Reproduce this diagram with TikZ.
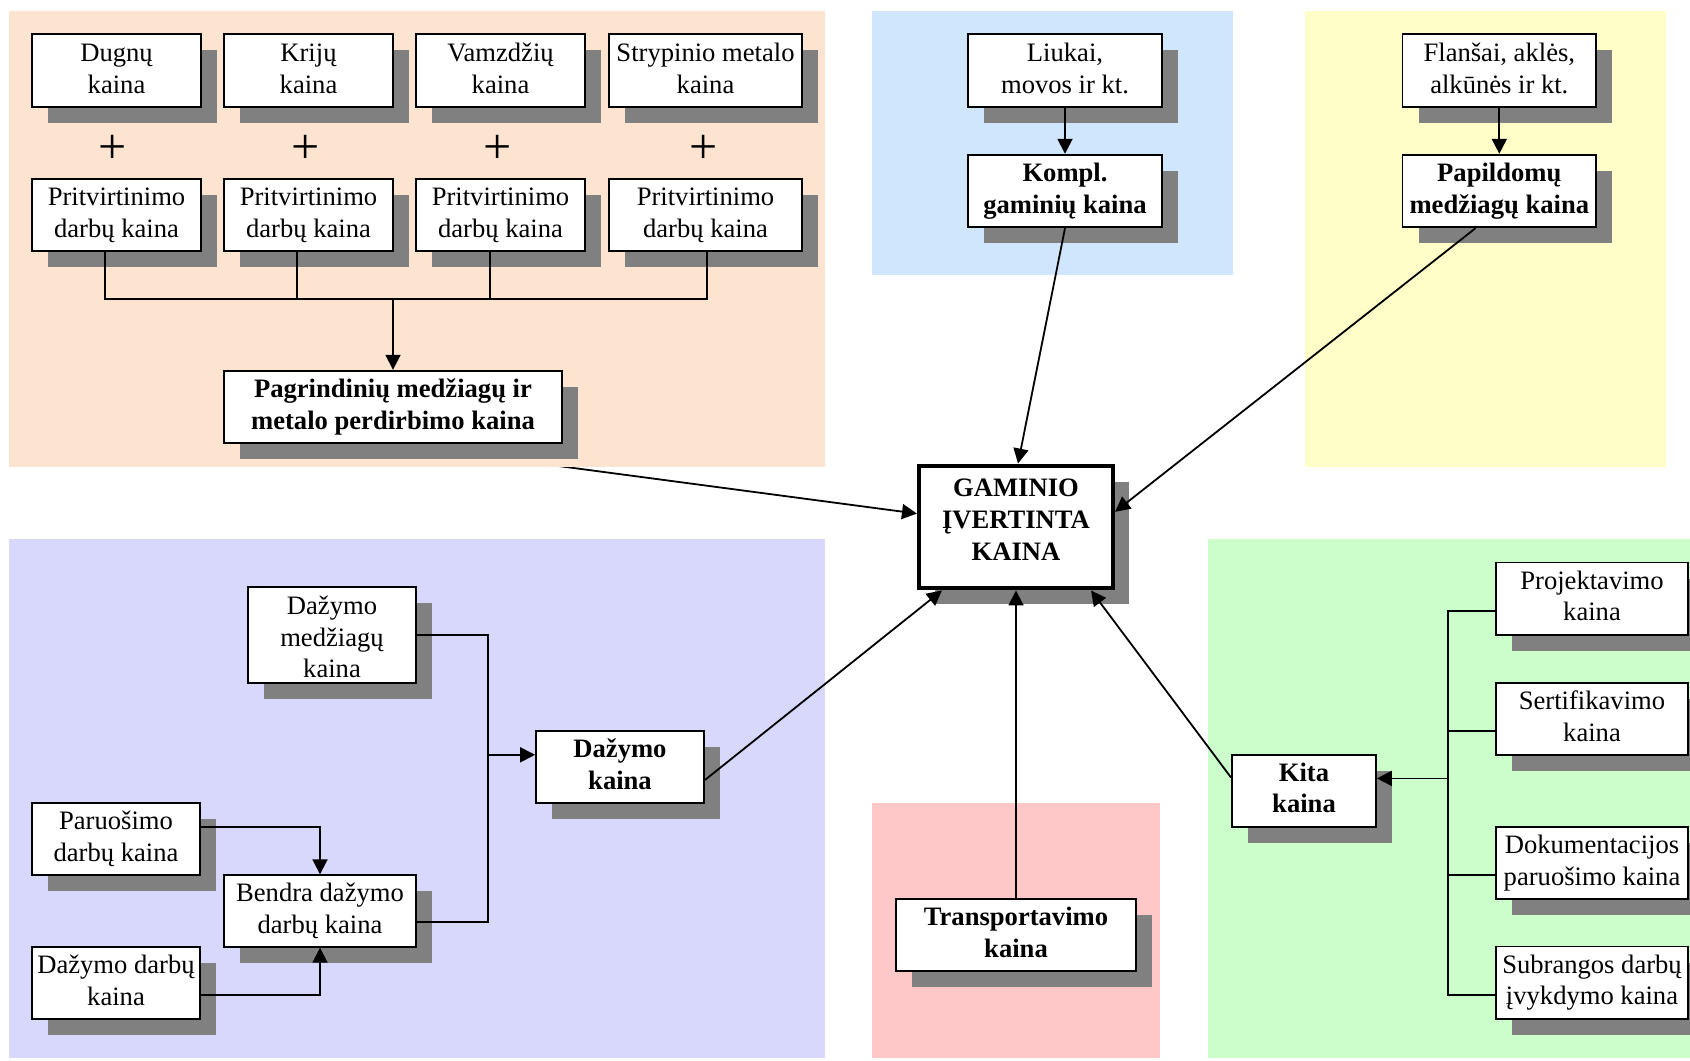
\documentclass[tikz,border=0pt]{standalone}
\usepackage{fontspec}
\setmainfont{Liberation Serif}
\usetikzlibrary{arrows.meta,shadows,calc}
\definecolor{peach}{HTML}{FCE4D0}
\definecolor{skyband}{HTML}{D0E6FC}
\definecolor{lemon}{HTML}{FFFDC8}
\definecolor{lilac}{HTML}{D8D8FC}
\definecolor{rose}{HTML}{FFC8C8}
\definecolor{mint}{HTML}{CCFECC}
\definecolor{shade}{HTML}{808080}
\newcommand\regfont{\fontsize{13.3}{15.9}\selectfont}
\pgfdeclarelayer{under}
\pgfdeclarelayer{bands}
\pgfsetlayers{under,bands,main}
\tikzset{
  box/.style={draw, line width=0.9pt, fill=white, inner sep=0pt, align=center,
    font=\regfont,
    drop shadow={shadow xshift=8pt, shadow yshift=-8pt, fill=shade, opacity=1}},
  bbox/.style={box, font=\regfont\bfseries},
  conn/.style={line width=0.9pt},
  arr/.style={conn, -{Triangle[length=7.5pt,width=7.5pt]}},
  plus/.style={inner sep=0pt, font=\fontsize{25}{25}\selectfont}
}
\begin{document}
\begin{tikzpicture}[x=0.5pt,y=-0.5pt]
\useasboundingbox (0,0) rectangle (1690,1060);

% coloured bands
\begin{pgfonlayer}{bands}
  \fill[peach]   (8.6,11)  rectangle (824.5,467);
  \fill[skyband] (872,11)  rectangle (1233,275);
  \fill[lemon]   (1305,11) rectangle (1666,467);
  \fill[lilac]   (8.6,539) rectangle (824.5,1058);
  \fill[rose]    (872,803) rectangle (1160,1058);
  \fill[mint]    (1208,539) rectangle (1690,1058);
\end{pgfonlayer}

% main materials
\node[box, minimum width=84.5pt, minimum height=36.5pt] (dug) at (116.5,70.8) {\strut Dugnų\\\strut kaina};
\node[box, minimum width=84.5pt, minimum height=36.5pt] (kri) at (308.5,70.8) {\strut Krijų\\\strut kaina};
\node[box, minimum width=84.5pt, minimum height=36.5pt] (vam) at (500.5,70.8) {\strut Vamzdžių\\\strut kaina};
\node[box, minimum width=96.5pt, minimum height=36.5pt] (str) at (705.5,70.8) {\strut Strypinio metalo\\\strut kaina};

\node[plus] (pl1) at (113,149) {+};
\node[plus] (pl2) at (306,149) {+};
\node[plus] (pl3) at (498,149) {+};
\node[plus] (pl4) at (704,149) {+};

\node[box, minimum width=84.5pt, minimum height=36pt] (p1) at (116.5,214.9) {\strut Pritvirtinimo\\\strut darbų kaina};
\node[box, minimum width=84.5pt, minimum height=36pt] (p2) at (308.5,214.9) {\strut Pritvirtinimo\\\strut darbų kaina};
\node[box, minimum width=84.5pt, minimum height=36pt] (p3) at (500.5,214.9) {\strut Pritvirtinimo\\\strut darbų kaina};
\node[box, minimum width=96.5pt, minimum height=36pt] (p4) at (705.5,214.9) {\strut Pritvirtinimo\\\strut darbų kaina};

\node[bbox, minimum width=169pt, minimum height=36.2pt] (pag) at (393,406.9) {\strut Pagrindinių medžiagų ir\\\strut metalo perdirbimo kaina};

% fittings
\node[box, minimum width=96.75pt, minimum height=36.5pt] (liu) at (1065,70.8) {\strut Liukai,\\\strut movos ir kt.};
\node[bbox, minimum width=96.75pt, minimum height=36.3pt] (kom) at (1065,191) {\strut Kompl.\\\strut gaminių kaina};
\node[box, minimum width=96.75pt, minimum height=36.5pt] (fla) at (1499.3,70.8) {\strut Flanšai, aklės,\\\strut alkūnės ir kt.};
\node[bbox, minimum width=96.75pt, minimum height=36.3pt] (pap) at (1499.3,191) {\strut Papildomų\\\strut medžiagų kaina};

% total
\node[bbox, line width=2.2pt, minimum width=96.85pt, minimum height=61.25pt] (gam) at (1016,527)
  {\strut GAMINIO\\\strut ĮVERTINTA\\\strut KAINA\rule[-9.8pt]{0pt}{9.8pt}};

% painting
\node[box, minimum width=84pt, minimum height=48.1pt] (dmk) at (332,635) {\strut Dažymo\\\strut medžiagų\\kaina};
\node[box, minimum width=84pt, minimum height=36.2pt] (par) at (116,839) {\strut Paruošimo\\\strut darbų kaina};
\node[box, minimum width=96pt, minimum height=35.8pt] (ben) at (320,911) {\strut Bendra dažymo\\\strut darbų kaina};
\node[box, minimum width=84pt, minimum height=36.2pt] (ddk) at (116,983) {\strut Dažymo darbų\\\strut kaina};
\node[bbox, minimum width=84pt, minimum height=36pt] (dk) at (620,766.8) {\strut Dažymo\\\strut kaina};

% transport
\node[bbox, minimum width=120pt, minimum height=36pt] (tra) at (1016,935) {\strut Transportavimo\\\strut kaina};

% other costs
\node[bbox, minimum width=72pt, minimum height=36pt] (kit) at (1304,790.6) {\strut Kita\\\strut kaina};
\node[box, minimum width=96.25pt, minimum height=36.2pt] (pro) at (1592,598.7) {\strut Projektavimo\\\strut kaina};
\node[box, minimum width=96.25pt, minimum height=36.2pt] (ser) at (1592,718.9) {\strut Sertifikavimo\\\strut kaina};
\node[box, minimum width=96.25pt, minimum height=36.2pt] (dok) at (1592,862.8) {\strut Dokumentacijos\\\strut paruošimo kaina};
\node[box, minimum width=96.25pt, minimum height=36.2pt] (sub) at (1592,982.7) {\strut Subrangos darbų\\\strut įvykdymo kaina};

% collecting the attachment costs
\coordinate (bus) at (393,298.7);
\draw[conn] ([xshift=-5.75pt]p1.south) |- (bus);
\draw[conn] ([xshift=-5.75pt]p2.south) |- (bus);
\draw[conn] ([xshift=-5.25pt]p3.south) |- (bus);
\draw[conn] ([xshift=0.75pt]p4.south) |- (bus);
\draw[arr] (bus) -- (pag.north);

\draw[arr] (liu) -- (kom);
\draw[arr] (fla) -- (pap);

% into the total
\begin{pgfonlayer}{under}
  \draw[arr] (pag.south) -- ([yshift=6.7pt]gam.west);
\end{pgfonlayer}
\draw[arr] (kom.south) -- ([xshift=1pt]gam.north);
\draw[arr] ([xshift=-11.9pt]pap.south) -- ([yshift=7.6pt]gam.east);
\draw[arr] ([yshift=-6.6pt]dk.east) -- ([xshift=-37pt]gam.south);
\draw[arr] (tra.north) -- (gam.south);
\draw[arr] ([yshift=6.5pt]kit.west) -- ([xshift=37.5pt]gam.south);

% painting connectors
\coordinate (lv) at (487.6,754.8);
\draw[conn] (dmk.east) -| (lv) |- ([yshift=-5.5pt]ben.east);
\draw[arr] (lv) -- (lv -| dk.west);
\draw[arr] ([yshift=6.1pt]par.east) -| (ben.north);
\draw[arr] ([yshift=-5.9pt]ddk.east) -| (ben.south);

% other costs connectors
\coordinate (gt) at (1448,778.4);
\foreach \n in {pro,ser,dok,sub}
  \draw[conn] ([yshift=-6pt]\n.west) -| (gt);
\draw[arr] (gt) -- (gt -| kit.east);
\end{tikzpicture}
\end{document}
